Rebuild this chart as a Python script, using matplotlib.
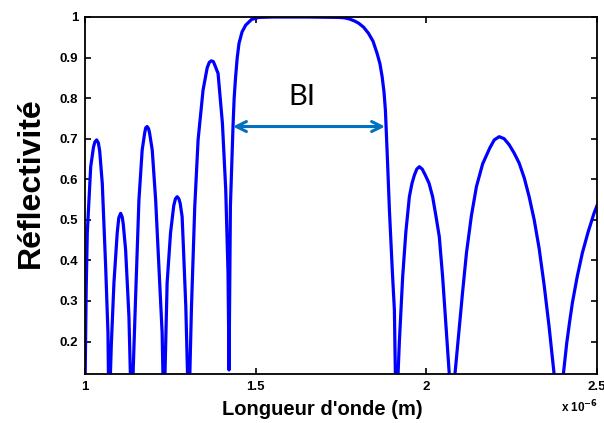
import matplotlib
matplotlib.use("Agg")
import matplotlib.pyplot as plt
from matplotlib.ticker import FormatStrFormatter

# wavelength in units of 1e-6 m (axis reads "x 10^-6")
wavelength = [1.000, 1.0035, 1.0067, 1.0167, 1.025, 1.029, 1.034, 1.039, 1.043, 1.0506, 1.0605, 1.0673, 1.0702,
              1.077, 1.0848, 1.0944, 1.099, 1.1044, 1.109, 1.112, 1.119, 1.1287, 1.1365,
              1.142, 1.148, 1.158, 1.1675, 1.175, 1.178, 1.182, 1.186, 1.189, 1.197, 1.207, 1.2164, 1.226, 1.231,
              1.236, 1.2406, 1.2506, 1.260, 1.265, 1.270, 1.275, 1.279, 1.2845, 1.2874, 1.2953, 1.304,
              1.308, 1.312, 1.3216, 1.3313, 1.3459, 1.358, 1.364, 1.370, 1.376, 1.380, 1.3898, 1.4026,
              1.4123, 1.419, 1.422,
              1.426, 1.4336, 1.437, 1.441, 1.446, 1.4512, 1.460, 1.4708, 1.488, 1.509, 1.55, 1.65,
              1.7427, 1.760, 1.775, 1.790, 1.8012, 1.816, 1.8304, 1.844, 1.8558, 1.864, 1.8705, 1.876,
              1.8801, 1.886, 1.8918, 1.9006, 1.9064, 1.909, 1.9114,
              1.921, 1.9307, 1.940, 1.9503, 1.958, 1.9649, 1.972, 1.9795, 1.988, 1.9971, 2.008, 2.0184,
              2.028, 2.0379, 2.0477, 2.0672, 2.0755,
              2.0839, 2.095, 2.106, 2.1175, 2.132, 2.1468, 2.165, 2.1858, 2.199, 2.2135, 2.228, 2.2427,
              2.257, 2.2719, 2.287, 2.3012, 2.316, 2.3304, 2.345, 2.3596, 2.3743, 2.386,
              2.4014, 2.4113, 2.420, 2.4278, 2.442, 2.457, 2.474, 2.4912, 2.500]
reflectivity = [0.08, 0.33, 0.468, 0.631, 0.680, 0.692, 0.697, 0.690, 0.670, 0.590, 0.385, 0.221, 0.00,
                0.19, 0.345, 0.468, 0.505, 0.516, 0.507, 0.490, 0.426, 0.262, 0.00,
                0.15, 0.303, 0.549, 0.672, 0.715, 0.727, 0.730, 0.725, 0.715, 0.672, 0.549, 0.385, 0.221, 0.00,
                0.18, 0.345, 0.468, 0.535, 0.552, 0.557, 0.552, 0.540, 0.508, 0.451, 0.287, 0.00,
                0.15, 0.287, 0.533, 0.697, 0.820, 0.875, 0.888, 0.892, 0.890, 0.882, 0.861, 0.738,
                0.574, 0.369, 0.13,
                0.533, 0.730, 0.800, 0.850, 0.900, 0.935, 0.963, 0.980, 0.994, 0.999, 1.000, 1.000,
                0.999, 0.998, 0.995, 0.990, 0.985, 0.975, 0.960, 0.940, 0.910, 0.885, 0.853, 0.815,
                0.770, 0.650, 0.525, 0.370, 0.278, 0.14, 0.00,
                0.20, 0.360, 0.470, 0.557, 0.590, 0.610, 0.625, 0.631, 0.625, 0.610, 0.590, 0.557,
                0.510, 0.459, 0.360, 0.12, 0.00,
                0.12, 0.22, 0.32, 0.418, 0.51, 0.582, 0.638, 0.677, 0.697, 0.705, 0.700, 0.685,
                0.665, 0.640, 0.603, 0.557, 0.500, 0.430, 0.340, 0.237, 0.12, 0.00,
                0.12, 0.196, 0.250, 0.295, 0.360, 0.418, 0.470, 0.516, 0.535]

x_ticks = [1, 1.5, 2, 2.5]
y_ticks = [0.2, 0.3, 0.4, 0.5, 0.6, 0.7, 0.8, 0.9, 1.0]

# band edges marked by the double arrow
band_start = 1.4336
band_end = 1.879
band_level = 0.73

fig = plt.figure(figsize=(6.04, 4.23), dpi=100)
ax = fig.add_axes([85 / 604, 1 - 374 / 423, 512 / 604, 357 / 423])

ax.plot(wavelength, reflectivity, color="#0000FF", lw=2.3, solid_joinstyle="round")

ax.set_xlim(1, 2.5)
ax.set_ylim(0.12, 1)
ax.set_xticks(x_ticks)
ax.set_yticks(y_ticks)
ax.xaxis.set_major_formatter(FormatStrFormatter("%g"))
ax.yaxis.set_major_formatter(FormatStrFormatter("%g"))

ax.tick_params(direction="in", length=4, width=1.2, top=True, right=True,
               labelsize=9.5, pad=5)
for label in ax.get_xticklabels() + ax.get_yticklabels():
    label.set_fontfamily("Liberation Sans")
    label.set_fontweight("bold")
for spine in ax.spines.values():
    spine.set_linewidth(1.3)

ax.set_ylabel("Réflectivité", fontsize=23, fontweight="bold",
              fontfamily="Liberation Sans", va="center")
ax.yaxis.set_label_coords(-0.105, 0.535)
ax.set_xlabel("Longueur d'onde (m)", fontsize=14.5, fontweight="bold",
              fontfamily="Liberation Sans", va="center")
ax.xaxis.set_label_coords(0.463, -0.10)

fig.text(561 / 604, 1 - 407 / 423, r"x 10$^{\mathbf{-6}}$", fontsize=8.5,
         fontweight="bold", fontfamily="Liberation Sans", va="center")

# band annotation
ax.annotate("", xy=(band_end, band_level), xytext=(band_start, band_level),
            arrowprops=dict(arrowstyle="<->", color="#0070C0", lw=2.2,
                            mutation_scale=18, shrinkA=0, shrinkB=0))
ax.text((band_start + band_end) / 2 - 0.02, 0.803, "BI", fontsize=21,
        fontfamily="Lato", ha="center", va="center")

fig.savefig("out.png", dpi=100)
